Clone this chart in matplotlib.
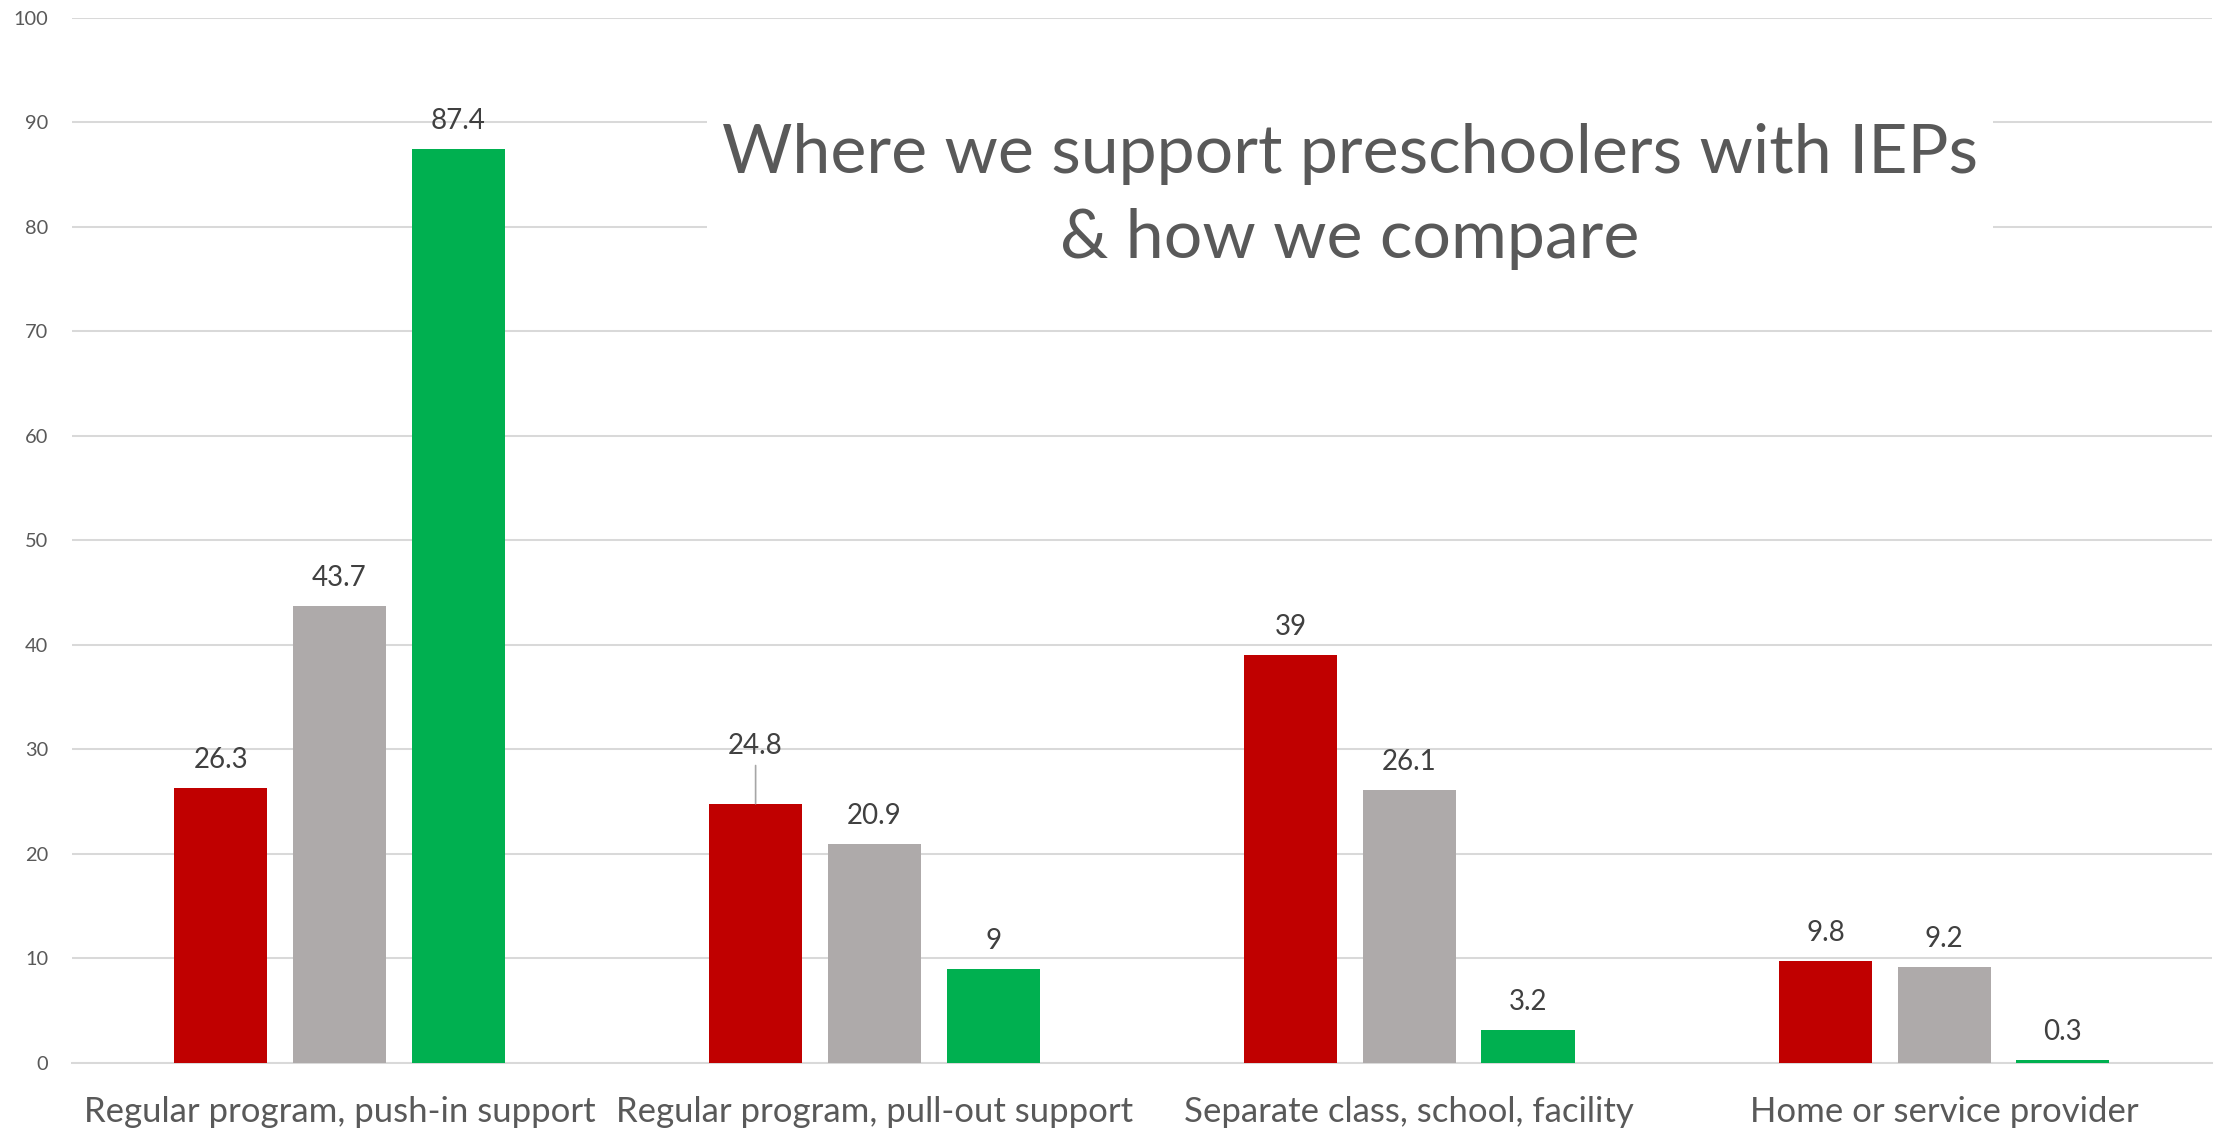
import matplotlib
matplotlib.use("Agg")
import matplotlib.pyplot as plt
import numpy as np

categories = [
    "Regular program, push-in support",
    "Regular program, pull-out support",
    "Separate class, school, facility",
    "Home or service provider",
]
series_red = [26.3, 24.8, 39, 9.8]
series_gray = [43.7, 20.9, 26.1, 9.2]
series_green = [87.4, 9, 3.2, 0.3]
title = "Where we support preschoolers with IEPs\n& how we compare"

colors = ["#C00000", "#AEAAAA", "#00B050"]
plt.rcParams["font.family"] = ["Lato", "DejaVu Sans"]

fig = plt.figure(figsize=(22.16, 11.3), dpi=100)
ax = fig.add_axes([0.0325, 0.0593, 0.9655, 0.9252])

x = np.arange(len(categories))
bar_w = 0.174
step = 0.222

for i, (vals, c) in enumerate(zip([series_red, series_gray, series_green], colors)):
    pos = x + (i - 1) * step
    ax.bar(pos, vals, width=bar_w, color=c, zorder=3)
    for j, (p, v) in enumerate(zip(pos, vals)):
        lift = 14.4
        if i == 0 and j == 1:
            # this label sits higher, joined to its bar by a leader line
            lift = 36
            ax.annotate("", xy=(p, v), xytext=(0, 27.5), textcoords="offset points",
                        arrowprops=dict(arrowstyle="-", color="#A6A6A6", lw=1.2,
                                        shrinkA=0, shrinkB=0), zorder=4)
        ax.annotate(f"{v:g}", xy=(p, v), xytext=(0, lift), textcoords="offset points",
                    ha="center", va="baseline", fontsize=20, color="#404040", zorder=4)

ax.set_xlim(-0.5, 3.5)
ax.set_ylim(0, 100)
ax.set_yticks(np.arange(0, 101, 10))
ax.set_xticks(x)
ax.set_xticklabels(categories, fontsize=25, color="#595959")
ax.tick_params(axis="y", length=0, pad=17, labelsize=14.4, labelcolor="#595959")
ax.tick_params(axis="x", length=0, pad=23.5)
ax.grid(axis="y", color="#D9D9D9", lw=1.45, zorder=0)
for s in ["left", "right", "top"]:
    ax.spines[s].set_visible(False)
ax.spines["bottom"].set_color("#D9D9D9")
ax.spines["bottom"].set_linewidth(1.45)

fig.text(0.609, 0.826, title, ha="center", va="center", fontsize=49,
         color="#595959", linespacing=1.47,
         bbox=dict(facecolor="white", edgecolor="none", boxstyle="square,pad=0.22"),
         zorder=5)

fig.savefig("out.png", dpi=100, facecolor="white")
